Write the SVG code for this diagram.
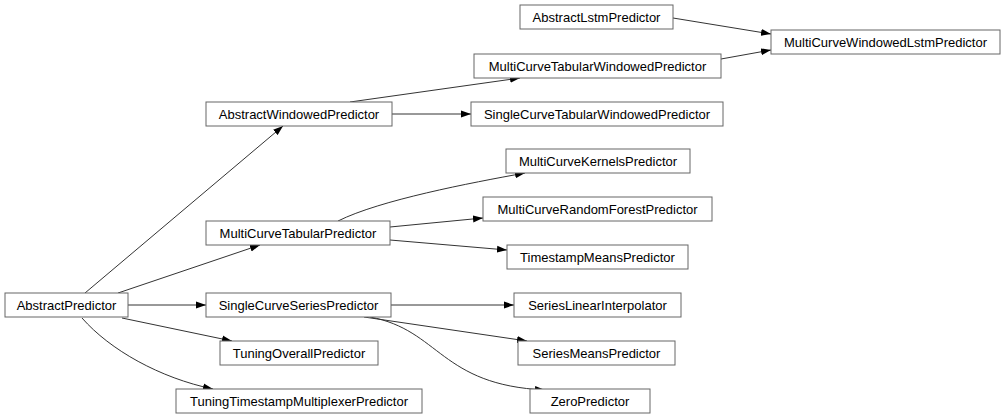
<svg xmlns="http://www.w3.org/2000/svg" width="1006" height="419" viewBox="0 0 1006 419">
<style>
.n rect{fill:#fff;stroke:#666;stroke-width:1}
.n text{font-family:"Liberation Sans",Arial,sans-serif;font-size:13px;fill:#000;text-anchor:middle}
.e path{fill:none;stroke:#333;stroke-width:1;marker-end:url(#ah)}
</style>
<defs>
<marker id="ah" markerUnits="userSpaceOnUse" markerWidth="10" markerHeight="8" refX="10" refY="4" orient="auto">
<path d="M0,0.5 L10,4 L0,7.5 Z" fill="#000"/>
</marker>
</defs>
<rect width="1006" height="419" fill="#fff"/>
<g id="connectors" class="e">
<path d="M85,293 L283,126"/>
<path d="M118,293 L260,245"/>
<path d="M128,305 L206,305"/>
<path d="M122,318 L232,341"/>
<path d="M82,318 C110,350 160,378 213,389"/>
<path d="M350,102 L520,78"/>
<path d="M392,114 L471,114"/>
<path d="M673,18 L771,34"/>
<path d="M721,59 L771,50"/>
<path d="M338,221 C380,200 470,183 525,173"/>
<path d="M390,227 L483,218"/>
<path d="M390,240 L507,250"/>
<path d="M391,305 L514,305"/>
<path d="M364,317 L527,341"/>
<path d="M370,317 C440,330 440,385 545,390"/>
</g>
<g id="AbstractLstmPredictor" class="n"><rect x="520" y="5" width="153" height="24"/><text x="596.5" y="21.5">AbstractLstmPredictor</text></g>
<g id="MultiCurveWindowedLstmPredictor" class="n"><rect x="771" y="30" width="229" height="24"/><text x="885.5" y="46.5">MultiCurveWindowedLstmPredictor</text></g>
<g id="MultiCurveTabularWindowedPredictor" class="n"><rect x="474" y="54" width="247" height="24"/><text x="597.5" y="70.5">MultiCurveTabularWindowedPredictor</text></g>
<g id="AbstractWindowedPredictor" class="n"><rect x="206" y="102" width="186" height="24"/><text x="299" y="118.5">AbstractWindowedPredictor</text></g>
<g id="SingleCurveTabularWindowedPredictor" class="n"><rect x="471" y="102" width="252" height="24"/><text x="597" y="118.5">SingleCurveTabularWindowedPredictor</text></g>
<g id="MultiCurveKernelsPredictor" class="n"><rect x="506" y="149" width="184" height="24"/><text x="598" y="165.5">MultiCurveKernelsPredictor</text></g>
<g id="MultiCurveRandomForestPredictor" class="n"><rect x="483" y="197" width="229" height="24"/><text x="597.5" y="213.5">MultiCurveRandomForestPredictor</text></g>
<g id="MultiCurveTabularPredictor" class="n"><rect x="206" y="221" width="184" height="24"/><text x="298" y="237.5">MultiCurveTabularPredictor</text></g>
<g id="TimestampMeansPredictor" class="n"><rect x="507" y="245" width="181" height="24"/><text x="597.5" y="261.5">TimestampMeansPredictor</text></g>
<g id="AbstractPredictor" class="n"><rect x="5" y="293" width="123" height="24"/><text x="66.5" y="309.5">AbstractPredictor</text></g>
<g id="SingleCurveSeriesPredictor" class="n"><rect x="206" y="293" width="185" height="24"/><text x="298.5" y="309.5">SingleCurveSeriesPredictor</text></g>
<g id="SeriesLinearInterpolator" class="n"><rect x="514" y="293" width="167" height="24"/><text x="597.5" y="309.5">SeriesLinearInterpolator</text></g>
<g id="TuningOverallPredictor" class="n"><rect x="220" y="341" width="158" height="24"/><text x="299" y="357.5">TuningOverallPredictor</text></g>
<g id="SeriesMeansPredictor" class="n"><rect x="518" y="341" width="157" height="24"/><text x="596.5" y="357.5">SeriesMeansPredictor</text></g>
<g id="TuningTimestampMultiplexerPredictor" class="n"><rect x="176" y="389" width="246" height="24"/><text x="299" y="405.5">TuningTimestampMultiplexerPredictor</text></g>
<g id="ZeroPredictor" class="n"><rect x="530" y="389" width="120" height="24"/><text x="590" y="405.5">ZeroPredictor</text></g>
</svg>
